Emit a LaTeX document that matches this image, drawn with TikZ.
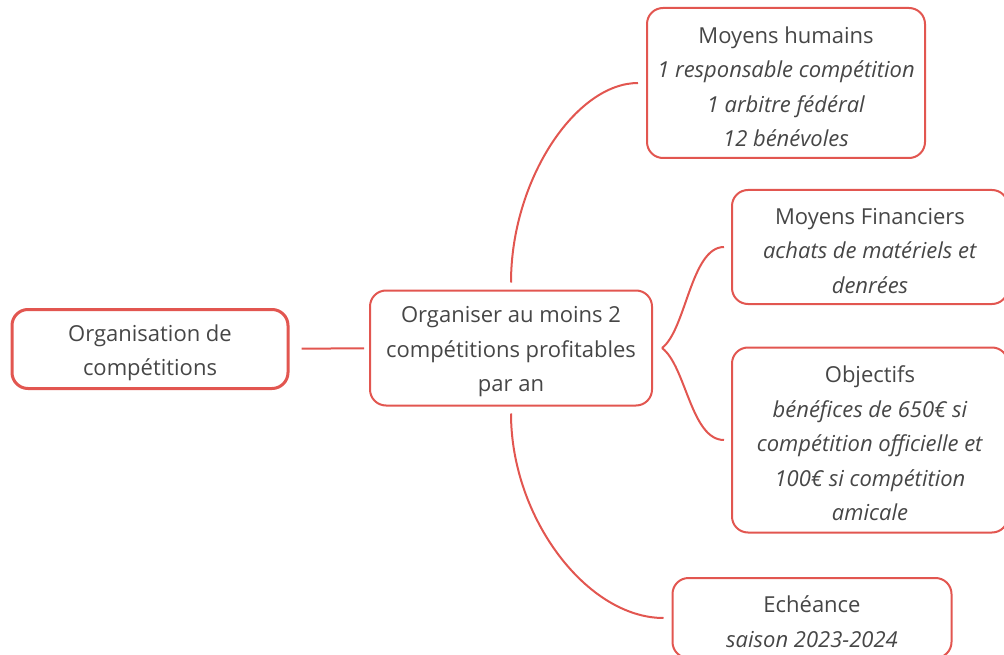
\documentclass[tikz,border=0pt]{standalone}
\usepackage{fontspec}
\setmainfont{Open Sans}
\definecolor{mapred}{RGB}{226,86,80}
\definecolor{maptext}{RGB}{70,70,70}
\newcommand\topstrut{\rule{0pt}{24pt}}

\tikzset{%
   topic/.style={
    draw=mapred,
    line width=2pt,
    rounded corners=16pt,
    align=center,
    inner sep=0pt,
    text=maptext,
    font=\fontsize{22}{34.5}\selectfont
  },
   root topic/.style={
    topic,
    line width=3pt
  },
   link/.style={
    draw=mapred,
    line width=2pt
  },
}

\begin{document}
\begin{tikzpicture}[x=1pt, y=-1pt]
\useasboundingbox (0,0) rectangle (1004,655);
%=========================================================================================================
% Central topics
%=========================================================================================================

\node [root topic, minimum width=276pt, minimum height=79pt] (root) at (150,349)
  {\topstrut Organisation de\\compétitions};

\node [topic, minimum width=282pt, minimum height=115pt] (goal) at (511,348)
  {\topstrut Organiser au moins 2\\compétitions profitables\\par an};

%=========================================================================================================
% Sub topics
%=========================================================================================================

\node [topic, minimum width=278pt, minimum height=150pt] (humains) at (786,83)
  {\topstrut Moyens humains\\\textit{1 responsable compétition}\\\textit{1 arbitre fédéral}\\\textit{12 bénévoles}};

\node [topic, minimum width=276pt, minimum height=114pt] (financiers) at (870,247)
  {\topstrut Moyens Financiers\\\textit{achats de matériels et}\\\textit{denrées}};

\node [topic, minimum width=276pt, minimum height=185pt] (objectifs) at (870,440)
  {\topstrut Objectifs\\\textit{bénéfices de 650€ si}\\\textit{compétition officielle et}\\\textit{100€ si compétition}\\\textit{amicale}};

\node [topic, minimum width=279pt, minimum height=80pt] (echeance) at (812,618)
  {\topstrut Echéance\\\textit{saison 2023-2024}};

%=========================================================================================================
% Draw connections
%=========================================================================================================

\draw [link, shorten <=12pt, shorten >=5pt] (root) -- (goal);

\draw [link, shorten <=7pt, shorten >=8pt] (goal.north)
  .. controls +(0,-110) and +(-70,0) .. (humains.west);

\draw [link, shorten <=7pt, shorten >=8pt] (goal.south)
  .. controls +(0,112) and +(-84,0) .. (echeance.west);

%brace to the two middle topics
\coordinate (fork) at ([xshift=9pt]goal.east);
\foreach \t/\s in {financiers/-1, objectifs/1}
  \draw [link, shorten >=7pt] (fork)
    .. controls +(24,18*\s) and +(-40,0) .. (\t.west);

\end{tikzpicture}
\end{document}
